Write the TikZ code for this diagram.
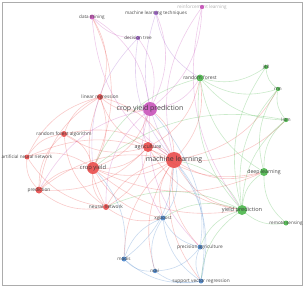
\documentclass[tikz,border=0pt]{standalone}
\usepackage{fontspec}
\setmainfont{Open Sans}
\usetikzlibrary{backgrounds}
\definecolor{cred}{HTML}{E8413F}
\definecolor{cgreen}{HTML}{3FB23F}
\definecolor{cblue}{HTML}{3D7CC6}
\definecolor{cmag}{HTML}{C448B5}
\definecolor{cvio}{HTML}{9B59C9}
\definecolor{ctext}{HTML}{333333}

\begin{document}
\begin{tikzpicture}[
  x=1pt, y=-1pt,
  dot/.style={circle, inner sep=0pt, fill=#1, fill opacity=.85},
  word/.style={inner sep=0pt, text=ctext, text opacity=.9},
  link/.style={draw=#1, draw opacity=.28, line width=.6pt},
]
\useasboundingbox (0,0) rectangle (307,289);
\draw[gray!65, line width=1.2pt] (2.5,2.5) rectangle (302.5,285.5);
% Keywords
\foreach \n/\x/\y/\s/\c/\f/\t in {
  dm/92/17/5/cmag/4.6/data mining,
  mlt/156/13/4.4/cvio/4.6/machine learning techniques,
  dt/138/38/4.4/cvio/4.6/decision tree,
  rf/200/78/7/cgreen/5/random forest,
  jf/266/67/4.4/cgreen/4.6/j48,
  rnn/278/89/4.4/cgreen/4.6/rnn,
  lstm/286/120/4.4/cgreen/4.6/lstm,
  lr/100/97/6/cred/4.8/linear regression,
  cyp/150/109/14/cmag/7/crop yield prediction,
  rfa/64/134/6/cred/4.8/random forest algorithm,
  ann/27/157/5/cred/4.6/artificial neural network,
  agr/148/147/10/cred/5.3/agriculture,
  ml/174/160/16/cred/7/machine learning,
  cy/93/168/12/cred/5.8/crop yield,
  dl/264/172/8/cgreen/5.2/deep learning,
  pred/39/190/7/cred/4.8/prediction,
  nn/106/207/6/cred/4.8/neural network,
  yp/242/210/10/cgreen/5.6/yield prediction,
  xgb/163/218/5/cblue/4.6/xgboost,
  rs/286/223/5/cgreen/4.6/remote sensing,
  pa/200/247/5/cblue/4.8/precision agriculture,
  modis/124/259/5/cblue/4.6/modis,
  ndvi/155/271/4.4/cblue/4.6/ndvi,
  svr/201/281/5/cblue/4.8/support vector regression%
}{
  \node[dot=\c, minimum size=\s pt] (\n) at (\x,\y) {};
  \node[word, font=\fontsize{\f}{\f}\selectfont] (\n-t) at (\x,\y) {\t};
}
\node[word, text=gray!70, font=\fontsize{4.6}{4.6}\selectfont] (rl-t) at (202,7) {reinforcement learning};
\node[dot=cmag, minimum size=4.4pt] (rl) at (202,7) {};
% Links
\begin{pgfonlayer}{background}
\foreach \a/\b/\c in {
  cy/ml/cred, cy/agr/cred, cy/lr/cred, cy/rfa/cred, cy/ann/cred, cy/pred/cred,
  cy/nn/cred, cy/cyp/cred, cy/yp/cred, cy/dl/cred, cy/xgb/cred, cy/dm/cred,
  ml/agr/cred, ml/lr/cred, ml/rfa/cred, ml/ann/cred, ml/pred/cred, ml/nn/cred,
  ml/cyp/cred, ml/rf/cred, ml/dl/cred, ml/yp/cred, ml/xgb/cred, ml/pa/cred,
  ml/modis/cred, ml/ndvi/cred, ml/svr/cred, ml/lstm/cred, ml/rnn/cred,
  lr/rfa/cred, lr/pred/cred, lr/ann/cred, lr/nn/cred, lr/dm/cred, lr/cyp/cred,
  lr/agr/cred, rfa/ann/cred, rfa/pred/cred, rfa/nn/cred, rfa/agr/cred,
  ann/pred/cred, ann/nn/cred, pred/nn/cred, pred/agr/cred, nn/agr/cred,
  nn/xgb/cred, agr/yp/cred, agr/dl/cred, agr/rf/cred,
  cyp/dm/cmag, cyp/dt/cmag, cyp/mlt/cmag, cyp/rl/cmag, cyp/rf/cmag,
  cyp/agr/cmag, cyp/nn/cmag, cyp/pred/cmag, cyp/xgb/cmag, cyp/pa/cmag,
  dm/dt/cmag, dm/ml/cmag, rl/ml/cmag, rl/yp/cmag,
  mlt/ml/cvio, mlt/rf/cvio, dt/ml/cvio, dt/cy/cvio,
  rf/jf/cgreen, rf/rnn/cgreen, rf/lstm/cgreen, rf/yp/cgreen, rf/dl/cgreen,
  rf/cy/cgreen, jf/rnn/cgreen, jf/yp/cgreen, rnn/lstm/cgreen, rnn/yp/cgreen,
  rnn/dl/cgreen, lstm/dl/cgreen, lstm/yp/cgreen, lstm/cy/cgreen,
  dl/yp/cgreen, dl/rs/cgreen, yp/rs/cgreen, yp/ml/cgreen, yp/xgb/cgreen,
  yp/pa/cgreen, yp/svr/cgreen, yp/nn/cgreen,
  xgb/pa/cblue, xgb/modis/cblue, xgb/ndvi/cblue, xgb/svr/cblue, xgb/ml/cblue,
  modis/ndvi/cblue, modis/svr/cblue, modis/ml/cblue, modis/cy/cblue,
  ndvi/svr/cblue, ndvi/pa/cblue, pa/svr/cblue, pa/ml/cblue, svr/ml/cblue,
  svr/cyp/cblue%
}{
  \draw[link=\c] (\a) to[bend right=24] (\b);
}
\end{pgfonlayer}
\end{tikzpicture}
\end{document}
